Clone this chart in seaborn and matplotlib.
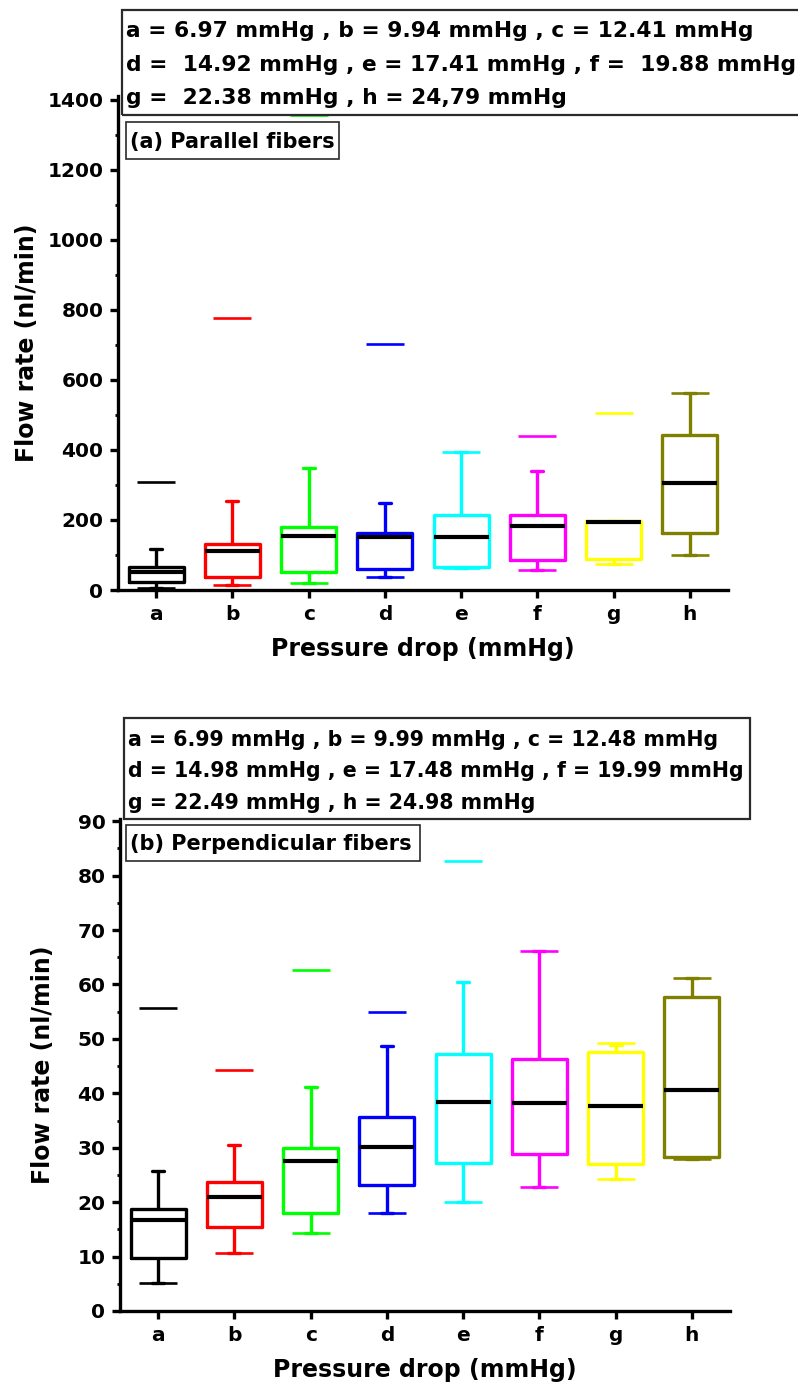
import numpy as np
import pandas as pd
import matplotlib
matplotlib.use("Agg")
import matplotlib.pyplot as plt
import seaborn as sns
from matplotlib.patches import Rectangle
from matplotlib.ticker import MultipleLocator

# ---------------- data ----------------
cats = ["a", "b", "c", "d", "e", "f", "g", "h"]
colors = ["#000000", "#FF0000", "#00FF00", "#0000FF", "#00FFFF", "#FF00FF", "#FFFF00", "#808000"]

# (a) Parallel fibers
par_lo = [6, 14, 20, 37, 62, 58, 75, 100]
par_q1 = [23, 37, 52, 60, 66, 86, 89, 164]
par_med = [52, 112, 155, 152, 150, 184, 193, 305]
par_q3 = [66, 132, 181, 164, 213, 213, 196, 443]
par_hi = [118, 253, 348, 247, 394, 340, 196, 561]
par_max = [308, 775, 1355, 703, 394, 440, 504, 561]
par_min = [6, 14, 20, 37, 62, 58, 75, 100]

# (b) Perpendicular fibers
per_lo = [5.2, 10.7, 14.3, 18.0, 20.0, 22.8, 24.2, 27.9]
per_q1 = [9.7, 15.4, 18.0, 23.1, 27.2, 28.8, 27.0, 28.3]
per_med = [16.7, 21.0, 27.6, 30.1, 38.4, 38.2, 37.7, 40.6]
per_q3 = [18.7, 23.7, 29.9, 35.6, 47.2, 46.3, 47.6, 57.7]
per_hi = [25.7, 30.5, 41.1, 48.7, 60.4, 66.1, 48.9, 61.2]
per_max = [55.7, 44.3, 62.6, 55.0, 82.7, 66.1, 49.2, 61.2]
per_min = [5.2, 10.7, 14.3, 18.0, 20.0, 22.8, 24.2, 27.9]

par_lines = ["a = 6.97 mmHg , b = 9.94 mmHg , c = 12.41 mmHg",
             "d =  14.92 mmHg , e = 17.41 mmHg , f =  19.88 mmHg",
             "g =  22.38 mmHg , h = 24,79 mmHg"]
per_lines = ["a = 6.99 mmHg , b = 9.99 mmHg , c = 12.48 mmHg",
             "d = 14.98 mmHg , e = 17.48 mmHg , f = 19.99 mmHg",
             "g = 22.49 mmHg , h = 24.98 mmHg"]

xlabel = "Pressure drop (mmHg)"
ylabel = "Flow rate (nl/min)"

# ---------------- style ----------------
sns.set_style("ticks")
plt.rcParams["font.family"] = ["DejaVu Sans"]
plt.rcParams["font.weight"] = "bold"
plt.rcParams["axes.labelweight"] = "bold"
plt.rcParams["text.color"] = "black"
plt.rcParams["axes.labelcolor"] = "black"
plt.rcParams["xtick.color"] = "black"
plt.rcParams["ytick.color"] = "black"
plt.rcParams["axes.edgecolor"] = "black"

W, H = 798, 1398
fig = plt.figure(figsize=(W / 100, H / 100), dpi=100)
palette = dict(zip(cats, colors))


def fx(x):
    return x / W


def fy(y):
    return 1 - y / H


def make_long(lo, q1, med, q3, hi):
    rows = []
    for c, vals in zip(cats, zip(lo, q1, med, q3, hi)):
        for v in vals:
            rows.append((c, v))
    return pd.DataFrame(rows, columns=["cat", "val"])


def panel(rect_px, lo, q1, med, q3, hi, mx, mn, ymax, major, minor, ylab_x):
    l, t, r, b = rect_px
    ax = fig.add_axes([fx(l), fy(b), (r - l) / W, (b - t) / H])
    df = make_long(lo, q1, med, q3, hi)
    sns.boxplot(data=df, x="cat", y="val", hue="cat", palette=palette,
                order=cats, hue_order=cats, fill=False, whis=(0, 100),
                showfliers=False, width=0.72, linewidth=2.4, legend=False,
                capwidths=0.16,
                medianprops=dict(color="black", linewidth=3.0), ax=ax)
    for arr in (mx, mn):
        d = pd.DataFrame({"cat": cats, "val": arr})
        sns.pointplot(data=d, x="cat", y="val", hue="cat", palette=palette,
                      order=cats, hue_order=cats, markers="_", linestyle="none",
                      errorbar=None, markersize=27, markeredgewidth=1.9,
                      legend=False, ax=ax)
    ax.set_xlim(-0.5, 7.5)
    ax.set_ylim(0, ymax)
    ax.yaxis.set_major_locator(MultipleLocator(major))
    ax.yaxis.set_minor_locator(MultipleLocator(minor))
    for s in ("top", "right"):
        ax.spines[s].set_visible(False)
    for s in ("left", "bottom"):
        ax.spines[s].set_linewidth(2.4)
        ax.spines[s].set_color("black")
    ax.tick_params(axis="both", which="major", length=5.5, width=2.4,
                   direction="out", labelsize=14.5, color="black",
                   labelcolor="black", pad=5)
    ax.tick_params(axis="y", which="minor", length=2.5, width=2.0, direction="out", color="black")
    ax.tick_params(axis="x", which="minor", length=0)
    for lab in ax.get_xticklabels() + ax.get_yticklabels():
        lab.set_fontweight("bold")
    ax.set_xlabel(xlabel, fontsize=17, fontweight="bold", labelpad=10, color="black")
    ax.set_ylabel(ylabel, fontsize=17, fontweight="bold", color="black")
    ax.yaxis.set_label_coords(ylab_x, 0.5)
    return ax


ax1 = panel((118, 96, 728, 590), par_lo, par_q1, par_med, par_q3, par_hi,
            par_max, par_min, 1410, 200, 100, -0.13)
ax2 = panel((120, 819, 730, 1311), per_lo, per_q1, per_med, per_q3, per_hi,
            per_max, per_min, 90.4, 10, 5, -0.107)


def box_px(x0, y0, x1, y1, lw):
    fig.add_artist(Rectangle((fx(x0), fy(y1)), (x1 - x0) / W, (y1 - y0) / H,
                             transform=fig.transFigure, fill=False,
                             edgecolor="#2a2a2a", linewidth=lw, zorder=5))


def lines_px(x, baselines, texts, size):
    for yb, tx in zip(baselines, texts):
        fig.text(fx(x), fy(yb), tx, fontsize=size, fontweight="bold",
                 ha="left", va="baseline", color="black", zorder=6)


# annotation boxes
box_px(122, 10, 810, 115, 1.6)
lines_px(126, [37, 71, 104], par_lines, 15.7)
box_px(124, 718, 750, 819, 1.6)
lines_px(128, [746, 777, 809], per_lines, 14.8)

# panel labels
box_px(126, 122, 339, 159, 1.2)
fig.text(fx(130), fy(148), "(a) Parallel fibers", fontsize=15, fontweight="bold",
         ha="left", va="baseline", color="black")
box_px(126, 825, 420, 861, 1.2)
fig.text(fx(130), fy(850), "(b) Perpendicular fibers", fontsize=15, fontweight="bold",
         ha="left", va="baseline", color="black")

fig.savefig("out.png", dpi=100)
